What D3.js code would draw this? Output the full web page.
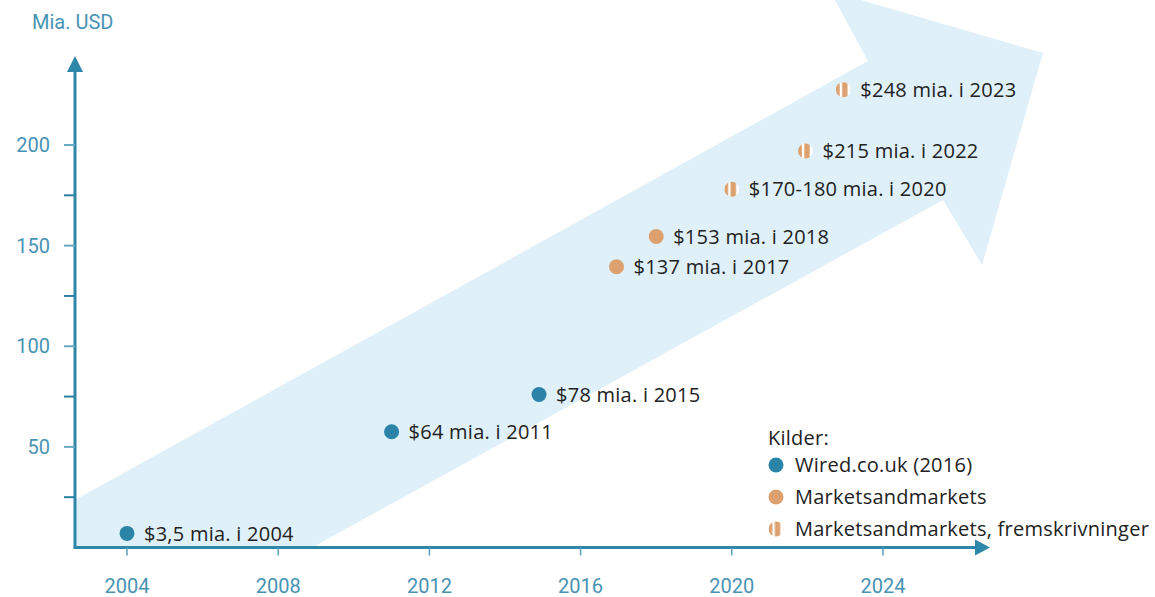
<!DOCTYPE html>
<html>
<head>
<meta charset="utf-8">
<script src="https://cdn.jsdelivr.net/npm/d3@7"></script>
<style>
  body { margin: 0; background: #fff; }
  svg { display: block; font-family: Roboto, "Open Sans", sans-serif; }
  .tick-label { fill: #4893b4; font-size: 20px; }
  .point-label, .legend-label { fill: #222; font-size: 20px; font-family: "Open Sans", sans-serif; letter-spacing: 0.25px; }
</style>
</head>
<body>
<svg width="1155" height="597"></svg>
<script>
// Data
const years = [2004, 2011, 2014.9, 2016.95, 2018, 2020, 2021.95, 2022.95]
const plotValues = [7, 57.5, 76, 139.5, 154.5, 178, 197, 227.5]
const labels = ["$3,5 mia. i 2004", "$64 mia. i 2011", "$78 mia. i 2015", "$137 mia. i 2017",
  "$153 mia. i 2018", "$170-180 mia. i 2020", "$215 mia. i 2022", "$248 mia. i 2023"]
const sources = ["wired", "wired", "wired", "mm", "mm", "proj", "proj", "proj"]

const xTicks = [2004, 2008, 2012, 2016, 2020, 2024]
const yTicks = [50, 100, 150, 200]
const yMinorTicks = [25, 75, 125, 175]

const legendKeys = ["wired", "mm", "proj"]
const legendLabels = ["Wired.co.uk (2016)", "Marketsandmarkets", "Marketsandmarkets, fremskrivninger"]

// Big background arrow, in data units (year, value)
const arrowYears = [2002.62, 2023.6, 2022.6, 2028.23, 2026.62, 2025.59, 2008.92, 2002.62]
const arrowValues = [23.6, 241.7, 276.5, 245.7, 140.4, 172.7, 0.25, 0]

const blue = "#2b84a8"
const orange = "#dca16f"
const axisColor = "#2e86a9"

let svg = d3.select('svg')

let x = d3.scaleLinear().domain([2004, 2024]).range([127, 883])
let y = d3.scaleLinear().domain([0, 200]).range([547.5, 145])

let xMin = x.invert(75), xMax = x.invert(990)
let yMax = y.invert(56)

// stripe pattern for projections
let defs = svg.append('defs')
let pat = defs.append('pattern')
  .attr('id', 'stripes')
  .attr('patternUnits', 'objectBoundingBox')
  .attr('patternContentUnits', 'objectBoundingBox')
  .attr('width', 1).attr('height', 1)
pat.append('rect').attr('width', 1).attr('height', 1).attr('fill', '#fff')
pat.append('rect').attr('x', 0).attr('width', 0.26).attr('height', 1).attr('fill', orange)
pat.append('rect').attr('x', 0.42).attr('width', 0.36).attr('height', 1).attr('fill', orange)

const fills = { wired: blue, mm: orange, proj: "url(#stripes)" }

// Background arrow
svg.append('polygon')
  .attr('points', arrowYears.map((d, i) => [x(d), y(arrowValues[i])].join(',')).join(' '))
  .attr('fill', '#dff0f9')

// Y axis line + arrow head
svg.append('line')
  .attr('x1', x(xMin)).attr('x2', x(xMin))
  .attr('y1', y(0)).attr('y2', y(yMax) + 12)
  .attr('stroke', axisColor).attr('stroke-width', 3)
svg.append('path')
  .attr('d', `M${x(xMin) - 8},${y(yMax) + 16} L${x(xMin)},${y(yMax)} L${x(xMin) + 8},${y(yMax) + 16} Z`)
  .attr('fill', axisColor)

// X axis line + arrow head
svg.append('line')
  .attr('x1', x(xMin) - 1.5).attr('x2', x(xMax) - 12)
  .attr('y1', y(0)).attr('y2', y(0))
  .attr('stroke', axisColor).attr('stroke-width', 3)
svg.append('path')
  .attr('d', `M${x(xMax) - 15},${y(0) - 8} L${x(xMax)},${y(0)} L${x(xMax) - 15},${y(0) + 8} Z`)
  .attr('fill', axisColor)

// Y ticks
svg.selectAll('line.ytick')
  .data(yTicks.concat(yMinorTicks))
  .enter().append('line')
  .attr('class', 'ytick')
  .attr('x1', x(xMin) - 11).attr('x2', x(xMin))
  .attr('y1', d => y(d)).attr('y2', d => y(d))
  .attr('stroke', d => yTicks.includes(d) ? '#6aa9c4' : '#2c7fa0')
  .attr('stroke-width', 2)

svg.selectAll('text.ylabel')
  .data(yTicks)
  .enter().append('text')
  .attr('class', 'tick-label')
  .attr('x', 50)
  .attr('y', d => y(d))
  .attr('dy', '0.35em')
  .attr('text-anchor', 'end')
  .text(d => d)

// X ticks
svg.selectAll('line.xtick')
  .data(xTicks)
  .enter().append('line')
  .attr('x1', d => x(d)).attr('x2', d => x(d))
  .attr('y1', y(0)).attr('y2', y(0) + 8)
  .attr('stroke', '#5b9fbd').attr('stroke-width', 1.5)

svg.selectAll('text.xlabel')
  .data(xTicks)
  .enter().append('text')
  .attr('class', 'tick-label')
  .attr('x', d => x(d))
  .attr('y', 593)
  .attr('text-anchor', 'middle')
  .text(d => d)

svg.append('text')
  .attr('class', 'tick-label')
  .attr('x', 32).attr('y', 29)
  .text('Mia. USD')

// Points
let pts = svg.selectAll('g.pt')
  .data(years.map((d, i) => ({ year: d, value: plotValues[i], label: labels[i], src: sources[i] })))
  .enter().append('g')

pts.append('circle')
  .attr('cx', d => x(d.year))
  .attr('cy', d => y(d.value))
  .attr('r', 7.5)
  .attr('fill', d => fills[d.src])

pts.append('text')
  .attr('class', 'point-label')
  .attr('x', d => x(d.year) + 17)
  .attr('y', d => y(d.value))
  .attr('dy', '0.36em')
  .text(d => d.label)

// Legend
svg.append('text')
  .attr('class', 'legend-label')
  .attr('x', 768).attr('y', 445)
  .text('Kilder:')

let leg = svg.selectAll('g.legend')
  .data(legendKeys)
  .enter().append('g')
  .attr('transform', (d, i) => `translate(776, ${465 + i * 32})`)

leg.append('circle')
  .attr('r', 7.5)
  .attr('fill', d => fills[d])

leg.append('text')
  .attr('class', 'legend-label')
  .attr('x', 19)
  .attr('dy', '0.36em')
  .text((d, i) => legendLabels[i])
</script>
</body>
</html>
